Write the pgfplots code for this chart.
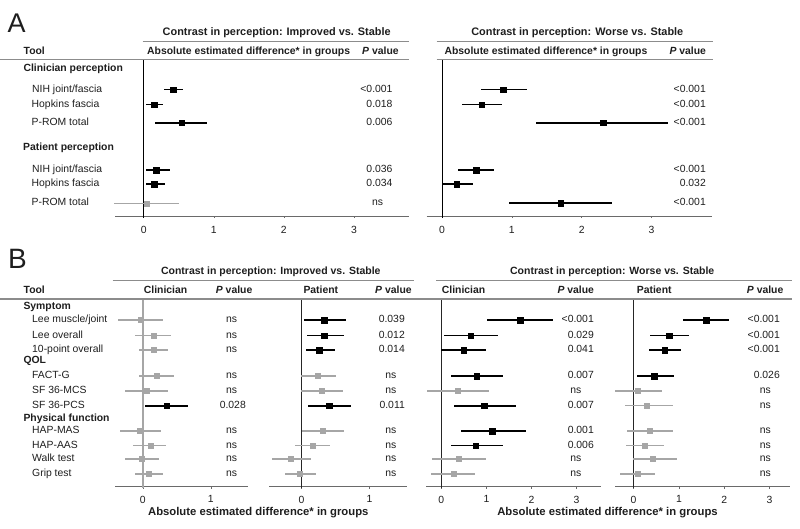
\documentclass[border=0pt]{standalone}
\usepackage{pgfplots}
\pgfplotsset{compat=1.18}
\usepackage{pgfplotstable}
\usepackage{fontspec}
\setmainfont{Liberation Sans}

\definecolor{nsgray}{HTML}{A6A6A6}
\definecolor{hlgray}{HTML}{8C8C8C}
\definecolor{axgray}{HTML}{6A6A6A}
\definecolor{txt}{HTML}{1E1E1E}

\newcommand\fn{\fontsize{10.4}{12}\selectfont}
\newcommand\fb{\fontsize{10.4}{12}\selectfont\bfseries}

\pgfplotsset{
  fp/.style={
    scale only axis, anchor=south west,
    axis x line*=bottom, axis y line=none,
    x axis line style={draw=axgray, line width=0.9pt},
    tick style={draw=axgray, line width=0.6pt}, major tick length=2pt, xtick align=outside,
    tick label style={font=\fn, text=txt},
    /pgf/number format/assume math mode=true,
    clip=false,
  },
}

% Rows: y = row position (pixels from top, negated), estimate, CI low, CI high
% Panel A, Improved vs Stable
\pgfplotstableread{
y est lo hi
-89.5 0.42 0.29 0.56
-104.5 0.15 0.03 0.27
-122.7 0.54 0.16 0.91
-170 0.18 0.03 0.37
-184.3 0.15 0.03 0.31
}\Aimp
\pgfplotstableread{
y est lo hi
-203.3 0.04 -0.42 0.51
}\AimpNS
% Panel A, Worse vs Stable
\pgfplotstableread{
y est lo hi
-89.5 0.88 0.56 1.21
-104.5 0.57 0.28 0.86
-122.7 2.31 1.35 3.23
-170 0.49 0.23 0.74
-184.3 0.21 0.00 0.44
-203.3 1.70 0.96 2.43
}\Awor
% Panel B, clinician, Improved
\pgfplotstableread{
y est lo hi
-405.7 0.35 0.03 0.66
}\Bci
\pgfplotstableread{
y est lo hi
-320 -0.035 -0.36 0.29
-335.5 0.16 -0.11 0.42
-350 0.16 -0.05 0.37
-376 0.21 -0.05 0.46
-391 0.05 -0.26 0.37
-431 -0.04 -0.34 0.26
-445.5 0.11 -0.15 0.34
-459 -0.02 -0.27 0.24
-474 0.09 -0.12 0.29
}\BciNS
% Panel B, patient, Improved
\pgfplotstableread{
y est lo hi
-320 0.33 0.03 0.66
-335.5 0.33 0.08 0.62
-350 0.26 0.06 0.49
-405.7 0.41 0.09 0.73
}\Bpi
\pgfplotstableread{
y est lo hi
-376 0.24 -0.01 0.50
-391 0.30 -0.01 0.61
-431 0.31 0.00 0.62
-445.5 0.17 -0.09 0.42
-459 -0.16 -0.44 0.14
-474 -0.02 -0.25 0.21
}\BpiNS
% Panel B, clinician, Worse
\pgfplotstableread{
y est lo hi
-320 1.75 1.01 2.47
-335.5 0.65 0.07 1.25
-350 0.50 0.00 0.99
-376 0.78 0.22 1.36
-405.7 0.95 0.27 1.65
-431 1.13 0.44 1.88
-445.5 0.76 0.22 1.37
}\Bcw
\pgfplotstableread{
y est lo hi
-391 0.37 -0.32 1.06
-459 0.39 -0.20 0.99
-474 0.28 -0.22 0.74
}\BcwNS
% Panel B, patient, Worse
\pgfplotstableread{
y est lo hi
-320 1.60 1.08 2.11
-335.5 0.78 0.37 1.22
-350 0.69 0.35 1.05
-376 0.45 0.07 0.90
}\Bpw
\pgfplotstableread{
y est lo hi
-391 0.10 -0.40 0.63
-405.7 0.30 -0.19 0.87
-431 0.36 -0.14 0.88
-445.5 0.24 -0.17 0.67
-459 0.43 -0.02 0.95
-474 0.09 -0.29 0.48
}\BpwNS

\newcommand\sigplot[1]{%
  \addplot[only marks, mark=square*, mark size=2.8pt, black,
    error bars/.cd, x dir=both, x explicit, error mark=none,
    error bar style={line width=1.8pt, black}]
    table[x=est, y=y, x error plus expr=\thisrow{hi}-\thisrow{est}, x error minus expr=\thisrow{est}-\thisrow{lo}] {#1};
}
\newcommand\nsplot[1]{%
  \addplot[only marks, mark=square*, mark size=2.5pt, nsgray,
    error bars/.cd, x dir=both, x explicit, error mark=none,
    error bar style={line width=1.3pt, nsgray}]
    table[x=est, y=y, x error plus expr=\thisrow{hi}-\thisrow{est}, x error minus expr=\thisrow{est}-\thisrow{lo}] {#1};
}

\begin{document}
\begin{tikzpicture}
\useasboundingbox (0pt,0pt) rectangle (800pt,-528pt);

% ---------- Panel A axes ----------
\begin{axis}[fp, at={(115pt,-216pt)}, width=294.3pt, height=156.7pt,
  xmin=-0.41, xmax=3.79, ymin=-216, ymax=-59.3, xtick={0,1,2,3},
  x tick label style={yshift=-5pt}]
  \draw[black, line width=1pt] (axis cs:0,-59.3) -- (axis cs:0,-218);
  \nsplot{\AimpNS}
  \sigplot{\Aimp}
\end{axis}
\begin{axis}[fp, at={(426.7pt,-216pt)}, width=284.8pt, height=156.7pt,
  xmin=-0.22, xmax=3.86, ymin=-216, ymax=-59.3, xtick={0,1,2,3},
  x tick label style={yshift=-5pt}]
  \draw[black, line width=1pt] (axis cs:0,-59.3) -- (axis cs:0,-218);
  \sigplot{\Awor}
\end{axis}

% ---------- Panel B axes ----------
\begin{axis}[fp, at={(115pt,-486.7pt)}, width=132.6pt, height=187.7pt,
  xmin=-0.41, xmax=1.54, ymin=-486.7, ymax=-299, xtick={0,1},
  x tick label style={yshift=-3.5pt}]
  \draw[nsgray, line width=1.5pt] (axis cs:0,-299) -- (axis cs:0,-488);
  \nsplot{\BciNS}
  \sigplot{\Bci}
\end{axis}
\begin{axis}[fp, at={(269pt,-486.7pt)}, width=138.3pt, height=187.7pt,
  xmin=-0.478, xmax=1.556, ymin=-486.7, ymax=-299, xtick={0,1},
  x tick label style={yshift=-3.5pt}]
  \draw[black!85, line width=0.9pt] (axis cs:0,-299) -- (axis cs:0,-488);
  \nsplot{\BpiNS}
  \sigplot{\Bpi}
\end{axis}
\begin{axis}[fp, at={(426pt,-486.7pt)}, width=174.5pt, height=187.7pt,
  xmin=-0.34, xmax=3.53, ymin=-486.7, ymax=-299, xtick={0,1,2,3},
  x tick label style={yshift=-3.5pt}]
  \draw[black!85, line width=0.9pt] (axis cs:0,-299) -- (axis cs:0,-488);
  \nsplot{\BcwNS}
  \sigplot{\Bcw}
\end{axis}
\begin{axis}[fp, at={(615pt,-486.7pt)}, width=174.9pt, height=187.7pt,
  xmin=-0.41, xmax=3.45, ymin=-486.7, ymax=-299, xtick={0,1,2,3},
  x tick label style={yshift=-3.5pt}]
  \draw[black!85, line width=0.9pt] (axis cs:0,-299) -- (axis cs:0,-488);
  \nsplot{\BpwNS}
  \sigplot{\Bpw}
\end{axis}

% ---------- Text and rules ----------
\begin{scope}[x=1pt, y=-1pt, every node/.style={inner sep=0pt, text=txt}]
  \tikzset{lab/.style={anchor=mid west, font=\fn},
           bl/.style={anchor=mid west, font=\fb},
           pn/.style={anchor=mid east, font=\fn},
           ns/.style={anchor=mid, font=\fn},
           hl/.style={draw=hlgray, line width=1.2pt}}
  % Panel A
  \node[anchor=base west, font=\fontsize{27}{30}\selectfont] at (7.5,32) {A};
  \node[anchor=mid, font=\fontsize{10.9}{12}\selectfont\bfseries] at (276.7,32.7) {Contrast in perception: Improved vs. Stable};
  \node[anchor=mid, font=\fontsize{10.9}{12}\selectfont\bfseries] at (577.3,32.7) {Contrast in perception: Worse vs. Stable};
  \draw[hl] (142.7,41.5) -- (409.3,41.5);
  \draw[hl] (436.7,41.5) -- (713,41.5);
  \node[bl] at (23.5,51.5) {Tool};
  \node[bl] at (147,51.5) {Absolute estimated difference* in groups};
  \node[bl] at (362,51.5) {\textit{P} value};
  \node[bl] at (444.3,51.5) {Absolute estimated difference* in groups};
  \node[bl] at (669.3,51.5) {\textit{P} value};
  \draw[hl] (0,59.3) -- (409.3,59.3);
  \draw[hl] (436.7,59.3) -- (713,59.3);
  \node[bl] at (23.3,69.3) {Clinician perception};
  \node[lab] at (32,89.5) {NIH joint/fascia};
  \node[lab] at (31.5,104.5) {Hopkins fascia};
  \node[lab] at (31.5,122.7) {P-ROM total};
  \node[bl] at (23,148) {Patient perception};
  \node[lab] at (32,170) {NIH joint/fascia};
  \node[lab] at (31.5,184.3) {Hopkins fascia};
  \node[lab] at (31.5,203.3) {P-ROM total};
  % A p-values
  \node[pn] at (392.7,89.5) {<0.001};
  \node[pn] at (392.7,104.5) {0.018};
  \node[pn] at (392.7,122.7) {0.006};
  \node[pn] at (392.7,170) {0.036};
  \node[pn] at (392.7,184.3) {0.034};
  \node[ns] at (377.5,203.3) {ns};
  \node[pn] at (706,89.5) {<0.001};
  \node[pn] at (706,104.5) {<0.001};
  \node[pn] at (706,122.7) {<0.001};
  \node[pn] at (706,170) {<0.001};
  \node[pn] at (706,184.3) {0.032};
  \node[pn] at (706,203.3) {<0.001};

  % Panel B
  \node[anchor=base west, font=\fontsize{28}{30}\selectfont] at (8,268) {B};
  \node[anchor=mid, font=\fontsize{10.5}{12}\selectfont\bfseries] at (270.8,271.7) {Contrast in perception: Improved vs. Stable};
  \node[anchor=mid, font=\fontsize{10.5}{12}\selectfont\bfseries] at (612.2,271.7) {Contrast in perception: Worse vs. Stable};
  \draw[hl] (112.7,280.7) -- (414,280.7);
  \draw[hl] (436,280.7) -- (791.7,280.7);
  \node[bl] at (23.5,291) {Tool};
  \node[bl] at (143.7,291) {Clinician};
  \node[bl] at (215.7,291) {\textit{P} value};
  \node[bl] at (303.3,291) {Patient};
  \node[bl] at (375,291) {\textit{P} value};
  \node[bl] at (441.7,291) {Clinician};
  \node[bl] at (557.3,291) {\textit{P} value};
  \node[bl] at (636.7,291) {Patient};
  \node[bl] at (746.7,291) {\textit{P} value};
  \draw[hl] (0,299) -- (791.7,299);
  \node[bl] at (23.3,306.7) {Symptom};
  \node[lab] at (32,320) {Lee muscle/joint};
  \node[lab] at (32,335.5) {Lee overall};
  \node[lab] at (32,350) {10-point overall};
  \node[bl] at (23.3,360.7) {QOL};
  \node[lab] at (32,376) {FACT-G};
  \node[lab] at (32,391) {SF 36-MCS};
  \node[lab] at (32,405.7) {SF 36-PCS};
  \node[bl] at (23.3,418.7) {Physical function};
  \node[lab] at (32,431) {HAP-MAS};
  \node[lab] at (32,445.5) {HAP-AAS};
  \node[lab] at (32,459) {Walk test};
  \node[lab] at (32,474) {Grip test};
  \node[anchor=mid, font=\fontsize{11.3}{13}\selectfont\bfseries] at (258.3,513) {Absolute estimated difference* in groups};
  \node[anchor=mid, font=\fontsize{11.3}{13}\selectfont\bfseries] at (607.5,513) {Absolute estimated difference* in groups};
  % B p-values: clinician improved
  \foreach \yy in {320,335.5,350,376,391,431,445.5,459,474} {\node[ns] at (231.7,\yy) {ns};}
  \node[pn] at (246,405.7) {0.028};
  % patient improved
  \node[pn] at (405,320) {0.039};
  \node[pn] at (405,335.5) {0.012};
  \node[pn] at (405,350) {0.014};
  \node[pn] at (405,405.7) {0.011};
  \foreach \yy in {376,391,431,445.5,459,474} {\node[ns] at (390.8,\yy) {ns};}
  % clinician worse
  \node[pn] at (594,320) {<0.001};
  \node[pn] at (594,335.5) {0.029};
  \node[pn] at (594,350) {0.041};
  \node[pn] at (594,376) {0.007};
  \node[pn] at (594,405.7) {0.007};
  \node[pn] at (594,431) {0.001};
  \node[pn] at (594,445.5) {0.006};
  \foreach \yy in {391,459,474} {\node[ns] at (575.8,\yy) {ns};}
  % patient worse
  \node[pn] at (780,320) {<0.001};
  \node[pn] at (780,335.5) {<0.001};
  \node[pn] at (780,350) {<0.001};
  \node[pn] at (780,376) {0.026};
  \foreach \yy in {391,405.7,431,445.5,459,474} {\node[ns] at (765.3,\yy) {ns};}
\end{scope}
\end{tikzpicture}
\end{document}
